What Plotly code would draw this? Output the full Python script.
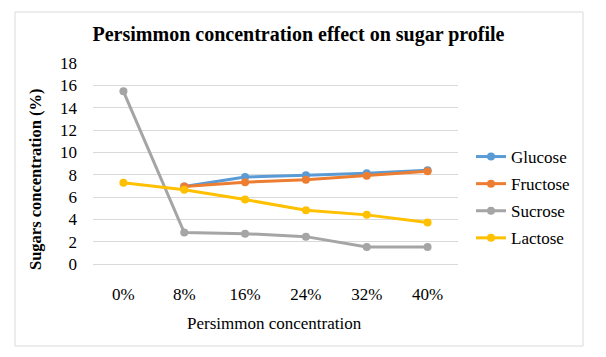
import plotly.graph_objects as go

categories = ["0%", "8%", "16%", "24%", "32%", "40%"]
glucose = [None, 6.94, 7.78, 7.95, 8.13, 8.40]
fructose = [None, 6.94, 7.33, 7.54, 7.90, 8.31]
sucrose = [15.46, 2.81, 2.72, 2.45, 1.53, 1.53]
lactose = [7.27, 6.64, 5.77, 4.81, 4.40, 3.71]
y_ticks = [0, 2, 4, 6, 8, 10, 12, 14, 16, 18]

series = [
    ("Glucose", glucose, "#5B9BD5"),
    ("Fructose", fructose, "#ED7D31"),
    ("Sucrose", sucrose, "#A5A5A5"),
    ("Lactose", lactose, "#FFC000"),
]

OFF = 8  # default page body margin
W, H = 606 - 2 * OFF, 357 - 2 * OFF
L, R, T, B = 93 - OFF, 606 - 458 - OFF, 63 - OFF, 357 - 264 - OFF
FONT = "Liberation Serif"
FS = 17

fig = go.Figure()
for name, vals, color in series:
    fig.add_trace(go.Scatter(
        x=categories, y=vals, name=name, mode="lines+markers",
        line=dict(color=color, width=3),
        marker=dict(color=color, size=8, symbol="circle"),
        connectgaps=False, legendgroup=name,
    ))

pw = W - L - R
ph = H - T - B
def px_to_paper_x(px):
    return (px - OFF - L) / pw
def px_to_paper_y(py):
    return (H - B - (py - OFF)) / ph

fig.update_layout(
    width=W, height=H,
    margin=dict(l=L, r=R, t=T, b=B, pad=0),
    paper_bgcolor="white", plot_bgcolor="white",
    font=dict(family=FONT, size=FS, color="black"),
    title=dict(
        text="<b>Persimmon concentration effect on sugar profile</b>",
        font=dict(family=FONT, size=20, color="black"),
        x=(298.5 - OFF) / W, xanchor="center", y=1 - (34 - OFF) / H, yanchor="middle",
    ),
    xaxis=dict(
        type="category", range=[-0.5, 5.5],
        showgrid=False, showline=True, linecolor="#d9d9d9", linewidth=1,
        ticks="", ticklabelstandoff=15,
        tickfont=dict(family=FONT, size=FS),
    ),
    yaxis=dict(
        range=[0, 18], tickvals=y_ticks, showgrid=True, gridcolor="#d9d9d9",
        gridwidth=1, zeroline=False, showline=False, ticks="",
        ticklabelstandoff=15,
        tickfont=dict(family=FONT, size=FS),
    ),
    legend=dict(
        x=px_to_paper_x(471), xanchor="left", y=px_to_paper_y(139), yanchor="top",
        font=dict(family=FONT, size=FS), tracegroupgap=2,
        bgcolor="rgba(0,0,0,0)", itemwidth=30,
    ),
    annotations=[
        dict(text="Persimmon concentration", xref="paper", yref="paper",
             x=px_to_paper_x(274), y=px_to_paper_y(323),
             xanchor="center", yanchor="middle", showarrow=False,
             font=dict(family=FONT, size=FS)),
        dict(text="<b>Sugars concentration (%)</b>", xref="paper", yref="paper",
             x=px_to_paper_x(35), y=px_to_paper_y(180), textangle=-90,
             xanchor="center", yanchor="middle", showarrow=False,
             font=dict(family=FONT, size=16.5)),
    ],
    shapes=[dict(
        type="rect", xref="paper", yref="paper",
        x0=px_to_paper_x(15), x1=px_to_paper_x(583),
        y0=px_to_paper_y(346), y1=px_to_paper_y(12),
        line=dict(color="#d9d9d9", width=1), fillcolor="rgba(0,0,0,0)",
        layer="below",
    )],
)

fig.write_html("out.html")
